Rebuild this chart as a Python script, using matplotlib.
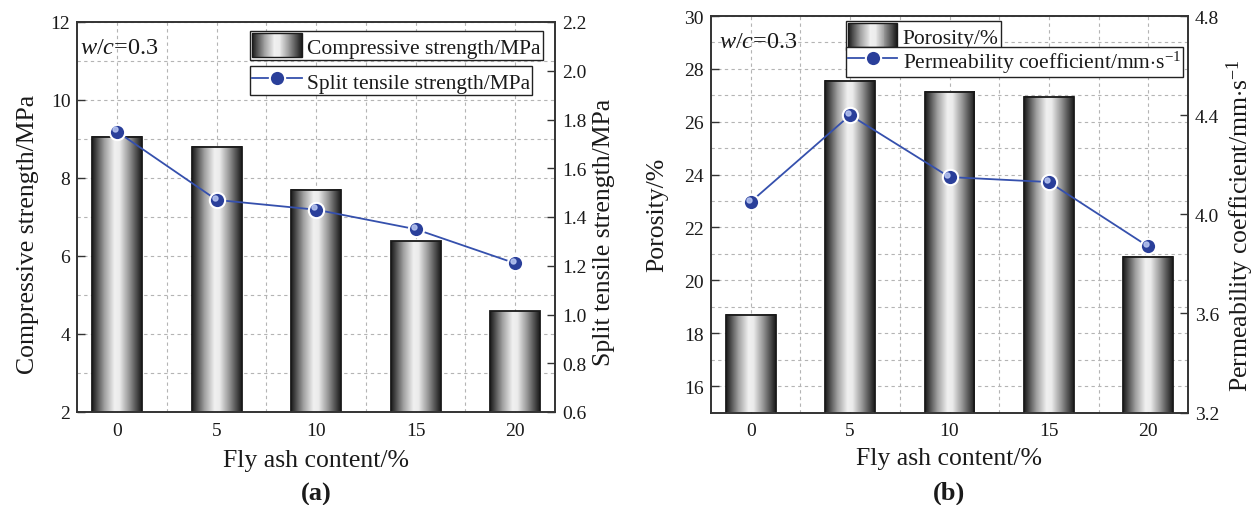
import numpy as np
import matplotlib
matplotlib.use("Agg")
import matplotlib.pyplot as plt
from matplotlib.colors import LinearSegmentedColormap
from matplotlib.patches import Rectangle
from matplotlib.ticker import MultipleLocator, FixedLocator
from matplotlib.transforms import offset_copy

plt.rcParams['font.family'] = ['Liberation Serif', 'DejaVu Serif']
plt.rcParams['mathtext.fontset'] = 'custom'
plt.rcParams['mathtext.rm'] = 'Liberation Serif'
plt.rcParams['mathtext.it'] = 'Liberation Serif:italic'

fly_ash = [0, 5, 10, 15, 20]
fly_ash_labels = ['0', '5', '10', '15', '20']
compressive = [9.06, 8.80, 7.70, 6.38, 4.58]
split_tensile = [1.75, 1.47, 1.43, 1.35, 1.21]
porosity = [18.7, 27.53, 27.11, 26.92, 20.89]
permeability = [4.05, 4.40, 4.15, 4.13, 3.87]

# cylinder shading: dark edges, light middle
cyl = LinearSegmentedColormap.from_list(
    'cyl', [(0.0, '#1a1a1a'), (0.08, '#444444'), (0.25, '#a0a0a0'),
            (0.45, '#f0f0f0'), (0.55, '#ececec'), (0.75, '#949494'),
            (0.92, '#404040'), (1.0, '#1a1a1a')])
grad = np.linspace(0, 1, 256).reshape(1, -1)

LINE_C = '#3550ad'
MARK_C = '#2a3f9a'
EDGE_C = '#1a1a1a'
TXT = '#1a1a1a'


class CylinderHandler:
    def legend_artist(self, legend, orig_handle, fontsize, handlebox):
        x0, y0 = -handlebox.xdescent, -handlebox.ydescent
        w, h = handlebox.width, handlebox.height
        n = 50
        for i in range(n):
            r = Rectangle((x0 + i * w / n, y0), w / n * 1.1, h,
                          facecolor=cyl((i + 0.5) / n), edgecolor='none',
                          transform=handlebox.get_transform())
            handlebox.add_artist(r)
        outline = Rectangle((x0, y0), w, h, facecolor='none', edgecolor=EDGE_C,
                            lw=1.0, transform=handlebox.get_transform())
        handlebox.add_artist(outline)
        return outline


def px2fig(x, y):
    return x / 1254, 1 - y / 506


fig = plt.figure(figsize=(12.54, 5.06), dpi=100)


def panel(rect, bars, pts, ylim, ylim2, yticks, yticks2, fmt2,
          lab_l, lab_r, lab_l_xy, lab_r_xy, bar_label, line_label,
          leg1_xy, leg2_xy, wc_xy, xlab_y, tag, tag_y):
    ax = fig.add_axes(rect)
    ax2 = ax.twinx()
    ax.set_xlim(-2, 22)
    ax.set_ylim(*ylim)
    ax2.set_ylim(*ylim2)

    # bars with cylinder gradient
    for xi, hi in zip(fly_ash, bars):
        ax.imshow(grad, extent=(xi - 1.25, xi + 1.25, ylim[0], hi), aspect='auto',
                  cmap=cyl, interpolation='bilinear', zorder=2)
    ax.bar(fly_ash, bars, width=2.5, facecolor='none', edgecolor=EDGE_C,
           lw=1.3, zorder=3)
    ax.set_xlim(-2, 22)
    ax.set_ylim(*ylim)
    bar_proxy = Rectangle((0, 0), 1, 1)

    line, = ax2.plot(fly_ash, pts, '-', color=LINE_C, lw=1.3, marker='o',
                     ms=11, mfc=MARK_C, mec='white', mew=1.5, zorder=5)
    hl = offset_copy(ax2.transData, fig=fig, x=-1.5, y=1.6, units='points')
    ax2.plot(fly_ash, pts, 'o', ms=3.6, color='#b8c6f2', alpha=0.85,
             transform=hl, zorder=6)

    # grid
    ax.set_axisbelow(True)
    ax.xaxis.set_major_locator(FixedLocator(fly_ash))
    ax.set_xticklabels(fly_ash_labels)
    ax.xaxis.set_minor_locator(MultipleLocator(2.5))
    ax.yaxis.set_major_locator(FixedLocator(yticks))
    ax.yaxis.set_minor_locator(MultipleLocator(1))
    ax.grid(True, which='both', ls=(0, (3, 3)), color='#b4b4b4', lw=0.8)
    ax2.yaxis.set_major_locator(FixedLocator(yticks2))
    ax2.set_yticklabels([fmt2 % v for v in yticks2])

    for a in (ax, ax2):
        a.tick_params(which='major', direction='in', length=5.5, width=1.0,
                      labelsize=14, colors='#333333', labelcolor=TXT, pad=5)
        a.tick_params(which='minor', length=0)
        for s in a.spines.values():
            s.set_color('#333333')
            s.set_linewidth(1.2)
    ax.tick_params(axis='x', pad=7)
    ax.tick_params(axis='y', right=False)

    x0 = rect[0] + rect[2] / 2
    fig.text(x0, 1 - xlab_y / 506, 'Fly ash content/%', ha='center', va='center',
             fontsize=18.5, color=TXT)
    fig.text(x0, 1 - tag_y / 506, tag, ha='center', va='center',
             fontsize=19, fontweight='bold', color=TXT)
    fig.text(*px2fig(*lab_l_xy), lab_l, rotation=90, ha='center', va='center',
             fontsize=18.5, color=TXT)
    fig.text(*px2fig(*lab_r_xy), lab_r, rotation=90, ha='center', va='center',
             fontsize=18.5, color=TXT)
    ax.text(*px2fig(*wc_xy), r'$w$/$c$=0.3', transform=fig.transFigure,
            ha='left', va='center', fontsize=17.5, color=TXT)

    common = dict(loc='upper left', bbox_transform=fig.transFigure,
                  fontsize=15.5, frameon=True, fancybox=False, framealpha=1,
                  edgecolor='#222222', borderpad=0.1, borderaxespad=0,
                  handlelength=2.3, handleheight=1.34, handletextpad=0.25,
                  labelspacing=0.2)
    leg1 = ax2.legend([bar_proxy], [bar_label], bbox_to_anchor=px2fig(*leg1_xy),
                      handler_map={bar_proxy: CylinderHandler()}, **common)
    leg1.get_frame().set_linewidth(1.0)
    ax2.add_artist(leg1)
    leg2 = ax2.legend([line], [line_label], bbox_to_anchor=px2fig(*leg2_xy),
                      numpoints=1, **common)
    leg2.get_frame().set_linewidth(1.0)
    for lg in (leg1, leg2):
        for t in lg.get_texts():
            t.set_color(TXT)
    return ax, ax2


panel([77.3 / 1254, 93 / 506, 477.7 / 1254, 390 / 506],
      compressive, split_tensile, (2, 12), (0.6, 2.2),
      [2, 4, 6, 8, 10, 12], [0.6, 0.8, 1.0, 1.2, 1.4, 1.6, 1.8, 2.0, 2.2], '%.1f',
      'Compressive strength/MPa', 'Split tensile strength/MPa', (28, 234), (604, 232),
      'Compressive strength/MPa', 'Split tensile strength/MPa',
      (250, 32.3), (250, 67.3), (80, 48), 461, '(a)', 494)

panel([711 / 1254, 92.5 / 506, 477 / 1254, 396.5 / 506],
      porosity, permeability, (15, 30), (3.2, 4.8),
      [16, 18, 20, 22, 24, 26, 28, 30], [3.2, 3.6, 4.0, 4.4, 4.8], '%.1f',
      'Porosity/%', r'Permeability coefficient/mm$\cdot$s$^{-1}$', (657, 215), (1240, 226),
      'Porosity/%', r'Permeability coefficient/mm$\cdot$s$^{-1}$',
      (845.7, 22.3), (845.7, 47.7), (719, 43), 459, '(b)', 493)

fig.savefig('out.png', dpi=100)
